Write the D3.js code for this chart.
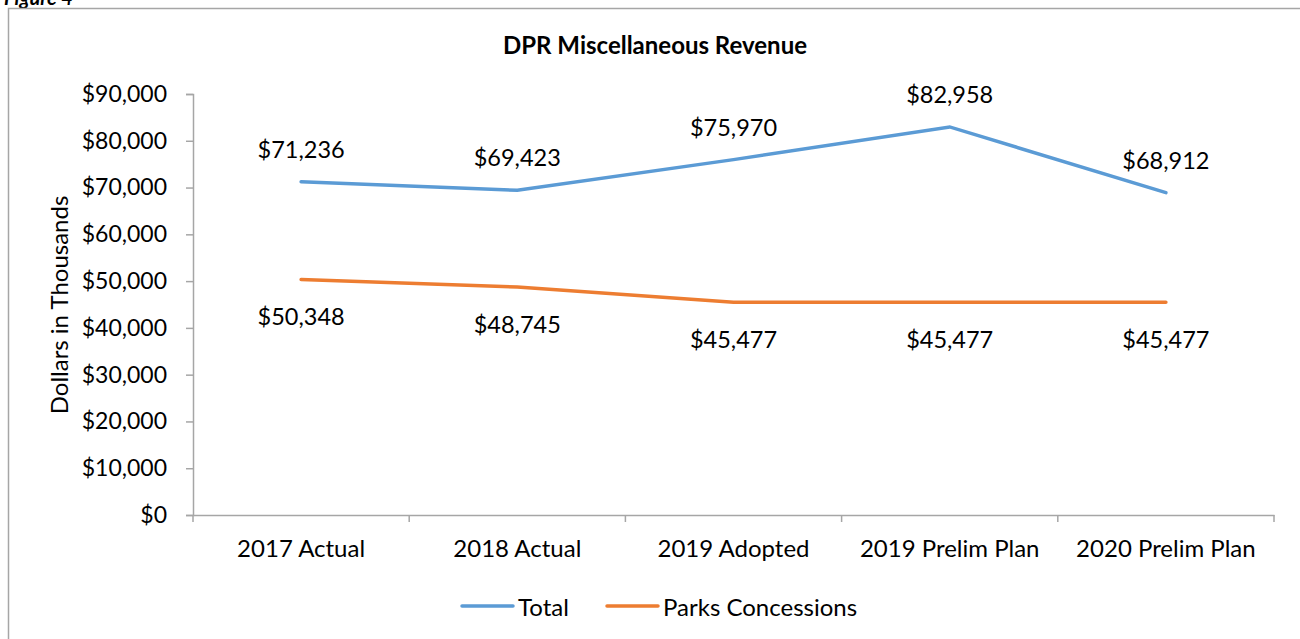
<!DOCTYPE html>
<html><head><meta charset="utf-8">
<script src="https://cdn.jsdelivr.net/npm/d3@7"></script>
<style>body{margin:0;background:#fff;} text{font-family:Lato,"Open Sans",sans-serif;fill:#000;}</style>
</head><body><svg id="c" width="1300" height="639"></svg>
<script>
const categories = ["2017 Actual","2018 Actual","2019 Adopted","2019 Prelim Plan","2020 Prelim Plan"];
const totalValues = [71236, 69423, 75970, 82958, 68912];
const parksValues = [50348, 48745, 45477, 45477, 45477];
const yTicks = [0,10000,20000,30000,40000,50000,60000,70000,80000,90000];
const seriesNames = ["Total","Parks Concessions"];
const colors = ["#5B9BD5","#ED7D31"];

(function(){
const svg = d3.select("#c");
svg.append("text").attr("x",4).attr("y",5).attr("font-weight","bold").attr("font-style","italic").attr("font-size",20).text("Figure 4");
svg.append("rect").attr("x",8.5).attr("y",8.5).attr("width",1300).attr("height",700).attr("fill","none").attr("stroke","#a6a6a6").attr("stroke-width",1.5);

const pl=193, pr=1274, pt=94, pb=515;
const x = d3.scaleBand().domain(categories).range([pl,pr]);
const y = d3.scaleLinear().domain([0,90000]).range([pb,pt]);

const fmt = d => "$" + d3.format(",")(d);

const ya = svg.append("g").attr("transform",`translate(${pl},0)`).call(d3.axisLeft(y).tickValues(yTicks).tickFormat(fmt).tickSize(7).tickPadding(19));
ya.select(".domain").attr("stroke","#a6a6a6").attr("stroke-width",1.5);
ya.selectAll(".tick line").attr("stroke","#a6a6a6").attr("stroke-width",1.5);
ya.selectAll(".tick text").attr("font-size",23).attr("font-family","Lato").attr("fill","#000");

const xa = svg.append("g").attr("transform",`translate(0,${pb})`).call(d3.axisBottom(x).tickSize(0).tickPadding(25));
xa.select(".domain").attr("stroke","#a6a6a6").attr("stroke-width",1.5);
xa.selectAll(".tick text").attr("font-size",24).attr("font-family","Lato").attr("fill","#000");
const bounds = categories.map(c=>x(c)).concat([pr]);
svg.append("g").selectAll("line").data(bounds).join("line")
  .attr("x1",d=>d).attr("x2",d=>d).attr("y1",pb).attr("y2",pb+7)
  .attr("stroke","#a6a6a6").attr("stroke-width",1.5);

svg.append("text").attr("x",655).attr("y",54).attr("text-anchor","middle").attr("font-weight","bold").attr("font-size",24).text("DPR Miscellaneous Revenue");
svg.append("text").attr("transform","translate(68,305) rotate(-90)").attr("text-anchor","middle").attr("font-size",24).text("Dollars in Thousands");

const cx = c => x(c) + x.bandwidth()/2;
const line = d3.line().x(d=>cx(d.c)).y(d=>y(d.v));
[totalValues, parksValues].forEach((vals,i)=>{
  const data = categories.map((c,j)=>({c, v: vals[j]}));
  svg.append("path").datum(data).attr("d",line).attr("fill","none").attr("stroke",colors[i]).attr("stroke-width",3.5).attr("stroke-linecap","round");
  svg.append("g").selectAll("text").data(data).join("text")
    .attr("x",d=>cx(d.c)).attr("y",d=>y(d.v) + (i===0?-33:37))
    .attr("text-anchor","middle").attr("dominant-baseline","central").attr("font-size",23.5)
    .text(d=>fmt(d.v));
});

const leg = [462,607];
seriesNames.forEach((n,i)=>{
  const lx = leg[i];
  svg.append("line").attr("x1",lx).attr("x2",lx+51).attr("y1",606).attr("y2",606).attr("stroke",colors[i]).attr("stroke-width",3.5).attr("stroke-linecap","round");
  svg.append("text").attr("x",lx+56).attr("y",606).attr("dominant-baseline","central").attr("font-size",24).text(n);
});
})();
</script></body></html>
